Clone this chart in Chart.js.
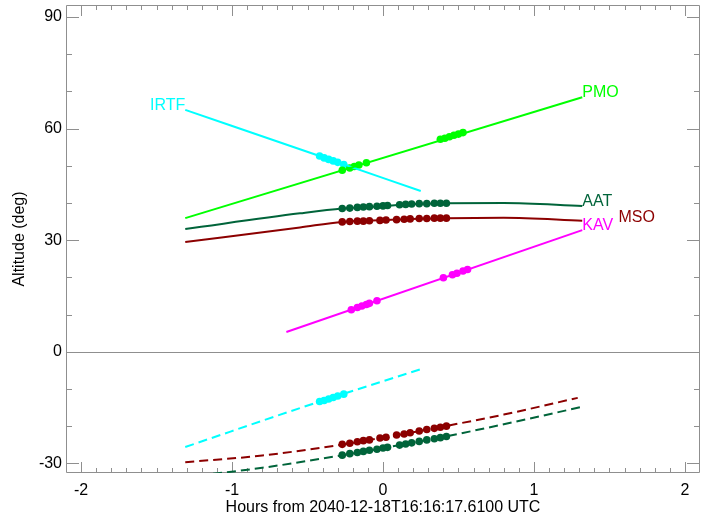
<!DOCTYPE html>
<html>
<head>
<meta charset="utf-8">
<script src="https://cdn.jsdelivr.net/npm/chart.js@4.4.1/dist/chart.umd.min.js"></script>
<style>
	html, body { margin: 0; padding: 0; background: #fff; }
	#wrap { width: 708px; height: 516px; }
</style>
</head>
<body>
<div id="wrap"><canvas id="c"></canvas></div>
<script>
// Altitude vs time for each site; solid = above, dashed = lower track,
// dots = observation times.

const X_TICKS = [-2, -1, 0, 1, 2];
const Y_TICKS = [-30, 0, 30, 60, 90];

// curves (hours, altitude deg)
const irtfHours = [-1.31, -0.42, 0.25];
const irtfAlt = [65.0, 52.6, 43.2];
const irtfLowAlt = [-25.6, -13.4, -4.7];

const pmoHours = [-1.31, 1.32];
const pmoAlt = [35.9, 68.4];

const aatHours = [-1.31, -0.55, -0.27, 0.03, 0.19, 0.42, 0.8, 1.32];
const aatAlt = [33.0, 37.2, 38.5, 39.2, 39.7, 39.9, 40.0, 39.2];

const msoHours = [-1.31, -0.55, -0.27, 0.03, 0.19, 0.42, 0.8, 1.32];
const msoAlt = [29.5, 33.4, 34.9, 35.4, 35.7, 35.9, 36.0, 35.2];

const kavHours = [-0.64, 1.32];
const kavAlt = [5.3, 32.7];

const msoLowHours = [-1.31, -0.8, -0.31, 0, 0.4, 0.8, 1.29];
const msoLowAlt = [-29.7, -27.9, -25.2, -23.1, -20.1, -16.9, -12.4];

const aatLowHours = [-1.31, -0.8, -0.31, 0, 0.4, 0.8, 1.31];
const aatLowAlt = [-33.7, -31.2, -28.1, -25.9, -22.9, -19.5, -14.9];

// observation markers
const irtfObsHours = [-0.42, -0.39, -0.36, -0.33, -0.30, -0.26];
const irtfObsAlt = [52.6, 52.1, 51.7, 51.3, 50.9, 50.3];
const irtfObsLowAlt = [-13.4, -13.1, -12.7, -12.3, -11.9, -11.4];

const pmoObsHours = [-0.27, -0.22, -0.19, -0.16, -0.11, 0.38, 0.41, 0.44, 0.47, 0.50, 0.53];
const pmoObsAlt = [48.8, 49.4, 49.8, 50.2, 50.8, 57.1, 57.4, 57.8, 58.2, 58.5, 58.9];

const aatObsHours = [-0.27, -0.22, -0.17, -0.13, -0.09, -0.04, 0.0, 0.03, 0.11, 0.15, 0.19, 0.24, 0.29, 0.34, 0.38, 0.42];
const aatObsAlt = [38.5, 38.6, 38.8, 38.9, 39.0, 39.1, 39.2, 39.3, 39.5, 39.6, 39.7, 39.8, 39.8, 39.9, 39.9, 39.9];
const aatObsLowAlt = [-27.8, -27.4, -27.1, -26.8, -26.5, -26.2, -25.9, -25.7, -25.1, -24.8, -24.5, -24.1, -23.7, -23.4, -23.1, -22.8];

const msoObsHours = [-0.27, -0.22, -0.17, -0.13, -0.09, -0.02, 0.02, 0.09, 0.14, 0.18, 0.24, 0.29, 0.34, 0.38, 0.42];
const msoObsAlt = [34.9, 35.0, 35.1, 35.1, 35.2, 35.3, 35.4, 35.5, 35.6, 35.7, 35.8, 35.8, 35.9, 35.9, 35.9];
const msoObsLowAlt = [-24.9, -24.6, -24.2, -23.9, -23.7, -23.2, -23.0, -22.4, -22.1, -21.8, -21.3, -20.9, -20.6, -20.3, -20.0];

const kavObsHours = [-0.21, -0.17, -0.14, -0.11, -0.09, -0.04, 0.40, 0.46, 0.49, 0.53, 0.56];
const kavObsAlt = [11.3, 11.9, 12.3, 12.7, 13.0, 13.7, 19.9, 20.7, 21.1, 21.7, 22.1];

// site labels at the line ends
const labelNames = ['IRTF', 'PMO', 'AAT', 'MSO', 'KAV'];
const labelHours = [-1.31, 1.32, 1.32, 1.56, 1.32];
const labelAlt = [65.0, 68.4, 39.2, 35.0, 32.7];
const labelAlign = ['right', 'left', 'left', 'left', 'left'];

const COLORS = {
	IRTF: '#00ffff',
	PMO: '#00ff00',
	AAT: '#00643a',
	MSO: '#8c0000',
	KAV: '#ff00ff',
};
const AXIS = '#8f8f8f';

function pts(xs, ys) {
	return xs.map((x, i) => ({ x, y: ys[i] }));
}

function curve(xs, ys, color, dashed) {
	return {
		data: pts(xs, ys),
		showLine: true,
		borderColor: color,
		backgroundColor: color,
		borderWidth: 2,
		borderDash: dashed ? [9, 5] : [],
		pointRadius: 0,
		cubicInterpolationMode: xs.length > 2 ? 'monotone' : 'default',
	};
}

function dots(xs, ys, color) {
	return {
		data: pts(xs, ys),
		showLine: false,
		pointRadius: 3.8,
		pointBorderWidth: 0,
		backgroundColor: color,
		borderColor: color,
	};
}

const datasets = [
	curve(pmoHours, pmoAlt, COLORS.PMO, false),
	curve(aatHours, aatAlt, COLORS.AAT, false),
	curve(msoHours, msoAlt, COLORS.MSO, false),
	curve(kavHours, kavAlt, COLORS.KAV, false),
	curve(irtfHours, irtfAlt, COLORS.IRTF, false),
	curve(irtfHours, irtfLowAlt, COLORS.IRTF, true),
	curve(msoLowHours, msoLowAlt, COLORS.MSO, true),
	curve(aatLowHours, aatLowAlt, COLORS.AAT, true),
	dots(pmoObsHours, pmoObsAlt, COLORS.PMO),
	dots(aatObsHours, aatObsAlt, COLORS.AAT),
	dots(msoObsHours, msoObsAlt, COLORS.MSO),
	dots(kavObsHours, kavObsAlt, COLORS.KAV),
	dots(irtfObsHours, irtfObsAlt, COLORS.IRTF),
	dots(irtfObsHours, irtfObsLowAlt, COLORS.IRTF),
	dots(msoObsHours, msoObsLowAlt, COLORS.MSO),
	dots(aatObsHours, aatObsLowAlt, COLORS.AAT),
];

// IDL-style box with inward ticks on all four sides, plus the zero line.
const framePlugin = {
	id: 'frame',
	beforeDatasetsDraw(chart) {
		const { ctx, chartArea: a, scales: { x, y } } = chart;
		ctx.save();
		ctx.strokeStyle = AXIS;
		ctx.lineWidth = 1;
		ctx.beginPath();
		const y0 = Math.round(y.getPixelForValue(0)) + 0.5;
		ctx.moveTo(a.left, y0);
		ctx.lineTo(a.right, y0);
		ctx.rect(a.left + 0.5, a.top + 0.5, a.right - a.left - 1, a.bottom - a.top - 1);
		for (let i = -21; i <= 21; i++) {
			const px = Math.round(x.getPixelForValue(i / 10)) + 0.5;
			if (px <= a.left + 1 || px >= a.right - 1) continue;
			const len = i % 10 === 0 ? 11 : 5;
			ctx.moveTo(px, a.bottom);
			ctx.lineTo(px, a.bottom - len);
			ctx.moveTo(px, a.top);
			ctx.lineTo(px, a.top + len);
		}
		for (let v = -30; v <= 90; v += 10) {
			const py = Math.round(y.getPixelForValue(v)) + 0.5;
			const len = v % 30 === 0 ? 13 : 6;
			ctx.moveTo(a.left, py);
			ctx.lineTo(a.left + len, py);
			ctx.moveTo(a.right, py);
			ctx.lineTo(a.right - len, py);
		}
		ctx.stroke();
		ctx.restore();
	},
	afterDatasetsDraw(chart) {
		const { ctx, scales: { x, y } } = chart;
		ctx.save();
		ctx.font = "16px 'Liberation Sans', Arial, sans-serif";
		ctx.textBaseline = 'alphabetic';
		labelNames.forEach((name, i) => {
			ctx.fillStyle = COLORS[name];
			ctx.textAlign = labelAlign[i];
			ctx.fillText(name, x.getPixelForValue(labelHours[i]), y.getPixelForValue(labelAlt[i]));
		});
		ctx.restore();
	},
};

Chart.defaults.font.family = "'Liberation Sans', Arial, Helvetica, sans-serif";
Chart.defaults.font.size = 16;
Chart.defaults.color = '#000';

new Chart(document.getElementById('c'), {
	type: 'scatter',
	data: { datasets },
	options: {
		responsive: true,
		maintainAspectRatio: false,
		animation: false,
		layout: { padding: { top: 5, right: 8, left: 0, bottom: 0 } },
		plugins: { legend: { display: false }, tooltip: { enabled: false } },
		scales: {
			x: {
				type: 'linear',
				min: -2.1,
				max: 2.1,
				grid: { display: false, drawTicks: false },
				border: { display: false },
				afterBuildTicks: (s) => { s.ticks = X_TICKS.map((v) => ({ value: v })); },
				afterFit: (s) => { s.height = 43; s.paddingLeft = 0; s.paddingRight = 0; },
				ticks: { padding: 8, color: '#000' },
				title: {
					display: true,
					text: 'Hours from 2040-12-18T16:16:17.6100 UTC',
					padding: { top: 0, bottom: 0 },
					font: { lineHeight: 1.1 },
				},
			},
			y: {
				type: 'linear',
				min: -32.6,
				max: 93.2,
				grid: { display: false, drawTicks: false },
				border: { display: false },
				afterBuildTicks: (s) => { s.ticks = Y_TICKS.map((v) => ({ value: v })); },
				afterFit: (s) => { s.width = 66; s.paddingTop = 0; s.paddingBottom = 0; },
				ticks: { padding: 4, color: '#000' },
				title: {
					display: true,
					text: 'Altitude (deg)',
					padding: { top: 10, bottom: 0 },
				},
			},
		},
	},
	plugins: [framePlugin],
});
</script>
</body>
</html>
